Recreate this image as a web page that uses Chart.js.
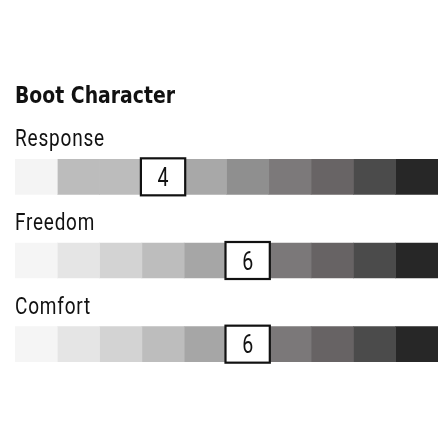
<!DOCTYPE html>
<html>
<head>
<meta charset="utf-8">
<script src="https://cdn.jsdelivr.net/npm/chart.js@4"></script>
<style>
  html, body { margin: 0; padding: 0; background: #fff; }
  #wrap { width: 442px; height: 442px; position: relative; }
</style>
</head>
<body>
<div id="wrap"><canvas id="myChart"></canvas></div>
<script>
// data
const chartTitle = "Boot Character";
const categories = ["Response", "Freedom", "Comfort"];
const ratings = [4, 6, 6];
const segmentCount = 10;
const segmentValue = [1, 1, 1]; // every step of the scale is one unit wide

// grey steps for each row, light to dark
const responseShades = ["#f4f4f4", "#bcbcbc", "#bcbcbc", "#ffffff", "#a8a8a8", "#8f8f8f", "#7c797a", "#686465", "#4b4b4b", "#272727"];
const freedomShades = ["#f5f5f5", "#e5e5e5", "#d3d3d3", "#bdbdbd", "#a6a6a6", "#ffffff", "#7b7879", "#676364", "#4b4b4b", "#272727"];
const comfortShades = ["#f5f5f5", "#e5e5e5", "#d3d3d3", "#bdbdbd", "#a6a6a6", "#ffffff", "#7b7879", "#676364", "#4b4b4b", "#272727"];
const rowShades = [responseShades, freedomShades, comfortShades];

const datasets = [];
for (let i = 0; i < segmentCount; i++) {
  datasets.push({
    label: "step " + (i + 1),
    data: segmentValue,
    backgroundColor: rowShades.map((row) => row[i]),
    borderWidth: 0,
    barThickness: 35,
  });
}

// draws the title, row names and the boxed rating on top of the bars
const labelsPlugin = {
  id: "labelsPlugin",
  afterDatasetsDraw(chart) {
    const ctx = chart.ctx;
    const xScale = chart.scales.x;
    const yScale = chart.scales.y;
    const left = xScale.getPixelForValue(0);
    ctx.save();
    ctx.fillStyle = "#111";
    ctx.textAlign = "left";
    ctx.textBaseline = "alphabetic";

    ctx.font = "bold 23px 'DejaVu Sans Condensed', 'Liberation Sans Narrow', sans-serif";
    ctx.fillText(chartTitle, left, 103, 160);

    categories.forEach((name, i) => {
      const yc = yScale.getPixelForValue(i);
      const top = yc - 17.5;
      ctx.fillStyle = "#111";
      ctx.font = "24px Roboto, 'DejaVu Sans Condensed', sans-serif";
      ctx.letterSpacing = "1px";
      const w = { Response: 90, Freedom: 80, Comfort: 76 }[name];
      ctx.fillText(name, left, top - 13, w);
      ctx.letterSpacing = "0px";

      // boxed rating
      const x0 = xScale.getPixelForValue(ratings[i] - 1) - 1;
      const x1 = xScale.getPixelForValue(ratings[i]) + 1;
      ctx.fillStyle = "#fff";
      ctx.fillRect(x0, top - 1, x1 - x0, 37);
      ctx.lineWidth = 2.2;
      ctx.strokeStyle = "#111";
      ctx.strokeRect(x0, top - 1, x1 - x0, 37);
      ctx.fillStyle = "#111";
      ctx.textAlign = "center";
      ctx.font = "25px Roboto, 'DejaVu Sans Condensed', sans-serif";
      ctx.fillText(String(ratings[i]), (x0 + x1) / 2, yc + 9, 11);
      ctx.textAlign = "left";
    });
    ctx.restore();
  },
};

const config = {
  type: "bar",
  data: { labels: categories, datasets: datasets },
  options: {
    indexAxis: "y",
    responsive: true,
    maintainAspectRatio: false,
    animation: false,
    layout: { padding: { top: 135, bottom: 56, left: 15, right: 4 } },
    plugins: { legend: { display: false }, tooltip: { enabled: false }, title: { display: false } },
    scales: {
      x: { stacked: true, min: 0, max: segmentCount, display: false },
      y: { stacked: true, display: false },
    },
  },
  plugins: [labelsPlugin],
};

const myChart = document.getElementById("myChart");
new Chart(myChart, config);
</script>
</body>
</html>
